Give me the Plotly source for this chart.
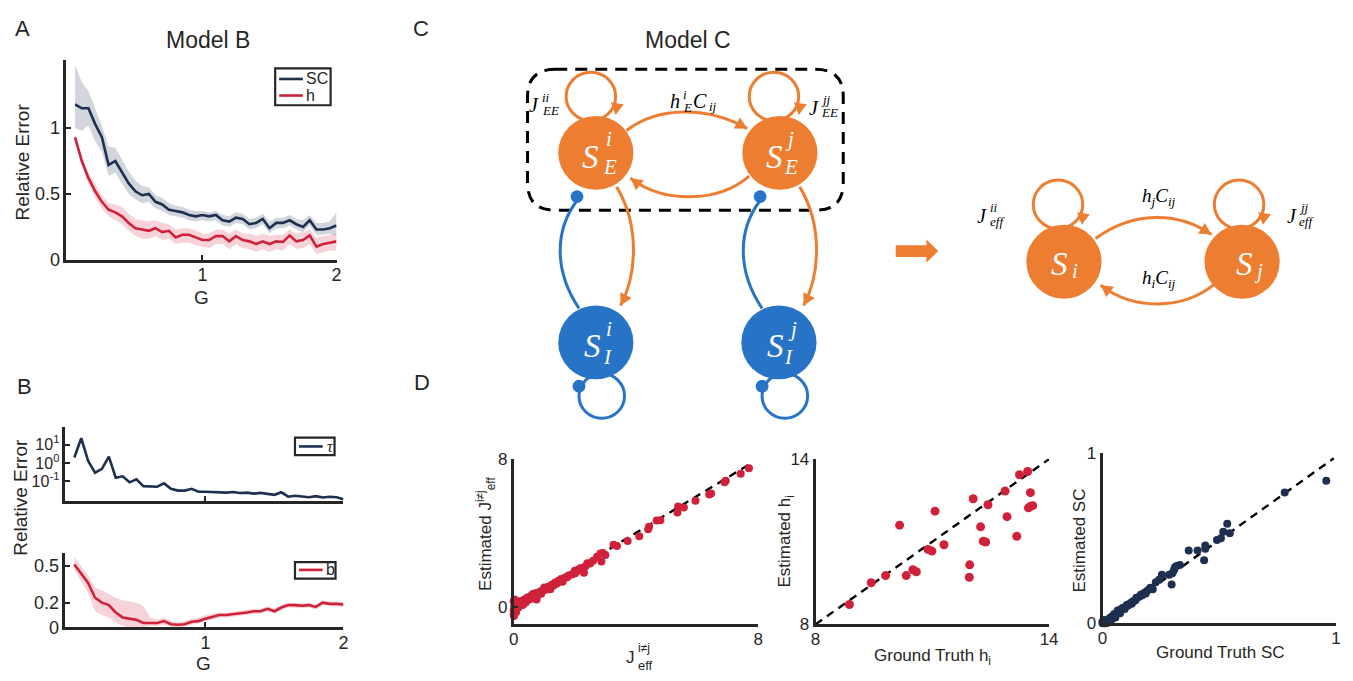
import math
import plotly.graph_objects as go

W, H = 1353, 681
SANS = "Liberation Sans"
SERIF = "Liberation Serif"
INK = "#262626"
NAVY = "#1E2F50"
RED = "#D0213A"
ORANGE = "#ED7D31"
BLUE = "#2773C6"

# ---------------- data ----------------
G = [0.05, 0.10, 0.15, 0.20, 0.25, 0.30, 0.35, 0.40, 0.45, 0.50,
     0.55, 0.60, 0.65, 0.70, 0.75, 0.80, 0.85, 0.90, 0.95, 1.00,
     1.05, 1.10, 1.15, 1.20, 1.25, 1.30, 1.35, 1.40, 1.45, 1.50,
     1.55, 1.60, 1.65, 1.70, 1.75, 1.80, 1.85, 1.90, 1.95, 2.00]

sc = [1.18, 1.15, 1.15, 1.03, 0.93, 0.72, 0.75, 0.66, 0.58, 0.52,
      0.49, 0.50, 0.44, 0.42, 0.38, 0.37, 0.36, 0.34, 0.33, 0.34,
      0.33, 0.34, 0.30, 0.29, 0.32, 0.31, 0.27, 0.28, 0.31, 0.24,
      0.28, 0.28, 0.30, 0.27, 0.25, 0.30, 0.23, 0.23, 0.24, 0.26]
sc_hi = [1.48, 1.35, 1.28, 1.15, 1.02, 0.86, 0.85, 0.76, 0.67, 0.60,
         0.56, 0.55, 0.49, 0.47, 0.43, 0.41, 0.40, 0.38, 0.37, 0.37,
         0.36, 0.37, 0.34, 0.33, 0.36, 0.35, 0.31, 0.32, 0.35, 0.29,
         0.32, 0.32, 0.34, 0.31, 0.30, 0.34, 0.28, 0.28, 0.29, 0.36]
sc_lo = [1.00, 0.98, 1.02, 0.90, 0.82, 0.64, 0.66, 0.58, 0.50, 0.46,
         0.43, 0.44, 0.39, 0.37, 0.34, 0.33, 0.32, 0.30, 0.29, 0.30,
         0.29, 0.30, 0.26, 0.25, 0.28, 0.27, 0.23, 0.24, 0.27, 0.20,
         0.24, 0.24, 0.26, 0.23, 0.21, 0.26, 0.19, 0.19, 0.20, 0.18]

h = [0.93, 0.75, 0.62, 0.52, 0.44, 0.38, 0.36, 0.33, 0.28, 0.24,
     0.23, 0.22, 0.24, 0.21, 0.22, 0.17, 0.19, 0.19, 0.17, 0.15,
     0.15, 0.18, 0.18, 0.14, 0.18, 0.15, 0.14, 0.12, 0.14, 0.12,
     0.14, 0.135, 0.185, 0.14, 0.15, 0.185, 0.10, 0.12, 0.13, 0.14]
h_hi = [0.95, 0.78, 0.66, 0.57, 0.49, 0.43, 0.42, 0.40, 0.35, 0.31,
        0.30, 0.29, 0.30, 0.28, 0.27, 0.23, 0.24, 0.24, 0.22, 0.20,
        0.20, 0.23, 0.23, 0.20, 0.23, 0.20, 0.20, 0.18, 0.20, 0.18,
        0.19, 0.19, 0.23, 0.20, 0.21, 0.23, 0.17, 0.18, 0.19, 0.20]
h_lo = [0.91, 0.72, 0.58, 0.47, 0.39, 0.33, 0.30, 0.27, 0.22, 0.18,
        0.16, 0.16, 0.18, 0.15, 0.16, 0.12, 0.13, 0.13, 0.11, 0.10,
        0.09, 0.12, 0.12, 0.08, 0.12, 0.09, 0.08, 0.06, 0.08, 0.06,
        0.08, 0.07, 0.12, 0.08, 0.09, 0.12, 0.04, 0.06, 0.07, 0.07]

tau = [2.0, 22, 1.3, 0.30, 0.48, 2.2, 0.16, 0.19, 0.09, 0.13,
       0.056, 0.052, 0.052, 0.079, 0.040, 0.032, 0.032, 0.040, 0.028, 0.028,
       0.027, 0.026, 0.025, 0.027, 0.024, 0.025, 0.022, 0.024, 0.021, 0.019,
       0.026, 0.015, 0.017, 0.016, 0.014, 0.016, 0.0135, 0.015, 0.014, 0.011]

b = [0.51, 0.43, 0.36, 0.24, 0.20, 0.18, 0.12, 0.08, 0.07, 0.06,
     0.035, 0.035, 0.035, 0.05, 0.025, 0.02, 0.025, 0.045, 0.05, 0.07,
     0.085, 0.10, 0.10, 0.105, 0.11, 0.12, 0.13, 0.13, 0.15, 0.13,
     0.16, 0.18, 0.18, 0.175, 0.18, 0.165, 0.20, 0.19, 0.19, 0.185]
b_hi = [0.57, 0.49, 0.42, 0.32, 0.30, 0.27, 0.24, 0.22, 0.21, 0.20,
        0.17, 0.08, 0.06, 0.08, 0.05, 0.04, 0.05, 0.07, 0.08, 0.10,
        0.11, 0.12, 0.12, 0.125, 0.13, 0.14, 0.15, 0.15, 0.17, 0.15,
        0.18, 0.20, 0.20, 0.195, 0.20, 0.185, 0.22, 0.21, 0.21, 0.205]
b_lo = [0.47, 0.37, 0.28, 0.13, 0.10, 0.08, 0.04, 0.01, 0.0, 0.0,
        0.0, 0.01, 0.01, 0.02, 0.005, 0.0, 0.005, 0.02, 0.03, 0.05,
        0.06, 0.08, 0.08, 0.085, 0.09, 0.10, 0.11, 0.11, 0.13, 0.11,
        0.14, 0.16, 0.16, 0.155, 0.16, 0.145, 0.18, 0.17, 0.17, 0.165]

# D1: J_eff (i != j) ground truth vs estimated
j_true = [0.0, 0.0, 0.02, 0.03, 0.05, 0.0, 0.04, 0.08, 0.10, 0.12, 0.15, 0.18, 0.20, 0.25,
          0.30, 0.35, 0.40, 0.45, 0.50, 0.55, 0.60, 0.65, 0.70, 0.75, 0.80, 0.85, 0.90,
          0.75, 1.00, 1.05, 1.10, 1.15, 1.20, 1.25, 1.30, 1.35, 1.40, 1.45, 1.50, 1.55,
          1.60, 1.65, 1.70, 1.80, 1.90, 2.00, 2.05, 2.10, 2.20, 2.30, 2.35, 2.41, 2.50,
          2.60, 2.73, 2.84, 2.87, 2.92, 3.00, 3.27, 3.38, 3.73, 4.11, 4.40, 4.43, 4.68,
          4.80, 5.36, 5.38, 5.57, 5.95, 6.40, 6.46, 6.90, 6.94, 7.43, 7.70,
          0.01, 0.03, 0.06, 0.10, 0.20, 0.30, 0.50, 0.70, 0.90, 1.00, 1.20, 0.40, 0.60,
          0.25, 0.15, 1.60, 1.75, 2.00, 1.30]
j_est = [-0.40, -0.20, 0.00, 0.20, -0.10, 0.30, 0.10, -0.30, 0.15, 0.00, 0.25, 0.10, 0.05, 0.30,
         0.20, 0.40, 0.25, 0.50, 0.40, 0.55, 0.45, 0.70, 0.60, 0.75, 0.65, 0.80, 0.70,
         0.40, 0.90, 1.00, 0.95, 1.10, 1.05, 1.20, 1.15, 1.30, 1.25, 1.40, 1.35, 1.50,
         1.45, 1.55, 1.60, 1.70, 1.75, 1.95, 1.90, 2.00, 2.10, 1.84, 2.20, 2.36, 2.35,
         2.50, 2.71, 2.89, 2.45, 2.92, 2.80, 3.36, 3.29, 3.56, 3.82, 4.20, 4.33, 4.68,
         4.69, 5.11, 5.43, 5.38, 5.74, 6.08, 6.13, 6.75, 6.83, 7.20, 7.50,
         -0.50, 0.40, 0.05, -0.10, 0.30, 0.10, 0.50, 0.45, 0.85, 1.05, 0.95, 0.30, 0.65,
         0.15, -0.05, 1.35, 1.60, 1.80, 1.20]

# D2: h_i
hi_true = [8.87, 9.43, 9.80, 10.33, 10.50, 10.59, 10.16, 10.89, 10.99, 11.07, 11.30,
           11.95, 11.96, 12.05, 12.24, 12.31, 12.37, 12.43, 12.87, 12.92, 13.17, 13.24,
           13.45, 13.52, 13.47, 13.53, 13.58]
hi_est = [8.72, 9.51, 9.77, 9.77, 9.98, 9.91, 11.60, 10.72, 10.66, 12.11, 10.89,
          9.71, 10.16, 12.56, 11.54, 11.02, 10.99, 12.34, 12.84, 11.91, 11.20, 13.43,
          13.55, 12.78, 12.23, 12.29, 12.31]

# D3: SC
sc_true = [0.958, 0.78, 0.534, 0.517, 0.545, 0.507, 0.49, 0.44, 0.44, 0.435, 0.407, 0.369,
           0.331, 0.317, 0.31, 0.299, 0.306, 0.296, 0.285, 0.254, 0.242, 0.228, 0.20, 0.19,
           0.18, 0.17, 0.16, 0.15, 0.14, 0.13, 0.12, 0.11, 0.10, 0.09, 0.08, 0.07, 0.06,
           0.05, 0.04, 0.03, 0.02, 0.01, 0.0, 0.005, 0.015, 0.035, 0.045, 0.055, 0.065,
           0.075, 0.085, 0.095, 0.105, 0.125, 0.145, 0.165, 0.185, 0.205, 0.215, 0.025,
           0.0, 0.01]
sc_est = [0.838, 0.77, 0.585, 0.539, 0.53, 0.501, 0.49, 0.457, 0.438, 0.371, 0.429, 0.429,
          0.343, 0.337, 0.33, 0.295, 0.314, 0.229, 0.286, 0.286, 0.257, 0.242, 0.20, 0.19,
          0.18, 0.165, 0.16, 0.15, 0.135, 0.13, 0.12, 0.105, 0.10, 0.09, 0.08, 0.075, 0.06,
          0.055, 0.04, 0.03, 0.02, 0.01, 0.0, 0.02, 0.0, 0.015, 0.03, 0.035, 0.075,
          0.06, 0.09, 0.085, 0.11, 0.115, 0.15, 0.17, 0.175, 0.21, 0.20, 0.005,
          0.01, 0.0]

# ---------------- layout helpers ----------------
def dom_x(a, c):
    return [a / W, c / W]


def dom_y(top, bottom):
    return [1 - bottom / H, 1 - top / H]


def axis(domain, rng, tickvals, ticktext=None, size=18, **kw):
    d = dict(domain=domain, range=rng, showline=True, linecolor=INK, linewidth=2.6,
             ticks="inside", ticklen=5, tickwidth=1.5, tickcolor=INK,
             showgrid=False, zeroline=False, tickvals=tickvals,
             tickfont=dict(family=SANS, size=size, color=INK), mirror=False)
    if ticktext is not None:
        d["ticktext"] = ticktext
    d.update(kw)
    return d


fig = go.Figure()


def band(x, lo, hi, color, xa, ya):
    fig.add_trace(go.Scatter(x=list(x) + list(x)[::-1], y=list(hi) + list(lo)[::-1],
                             fill="toself", fillcolor=color, line=dict(width=0),
                             mode="lines", hoverinfo="skip", showlegend=False,
                             xaxis=xa, yaxis=ya))


def line(x, y, color, xa, ya, width=2.6, dash=None):
    fig.add_trace(go.Scatter(x=x, y=y, mode="lines",
                             line=dict(color=color, width=width, dash=dash),
                             showlegend=False, xaxis=xa, yaxis=ya, cliponaxis=False))


# Panel A
band(G, sc_lo, sc_hi, "rgba(30,47,80,0.20)", "x", "y")
band(G, h_lo, h_hi, "rgba(208,33,58,0.20)", "x", "y")
line(G, sc, NAVY, "x", "y")
line(G, h, RED, "x", "y")

# Panel B
line(G, tau, NAVY, "x2", "y2")
band(G, b_lo, b_hi, "rgba(208,33,58,0.20)", "x3", "y3")
line(G, b, RED, "x3", "y3")

# Panel D scatter
line([0, 7.7], [0, 7.7], "black", "x4", "y4", width=2.4, dash="8px,6px")
fig.add_trace(go.Scatter(x=j_true, y=j_est, mode="markers", marker=dict(color=RED, size=8),
                         showlegend=False, xaxis="x4", yaxis="y4", cliponaxis=False))
line([8, 14], [8, 14], "black", "x5", "y5", width=2.4, dash="8px,6px")
fig.add_trace(go.Scatter(x=hi_true, y=hi_est, mode="markers", marker=dict(color=RED, size=9),
                         showlegend=False, xaxis="x5", yaxis="y5", cliponaxis=False))
line([0, 0.99], [0, 0.97], "black", "x6", "y6", width=2.4, dash="8px,6px")
fig.add_trace(go.Scatter(x=sc_true, y=sc_est, mode="markers", marker=dict(color=NAVY, size=8),
                         showlegend=False, xaxis="x6", yaxis="y6", cliponaxis=False))

# overlay dummy
fig.add_trace(go.Scatter(x=[None], y=[None], xaxis="x7", yaxis="y7", showlegend=False))

XS = dict(ticklabelstandoff=-3)
layout = dict(
    width=W, height=H, margin=dict(l=0, r=0, t=0, b=0),
    paper_bgcolor="white", plot_bgcolor="rgba(0,0,0,0)",
    xaxis=axis(dom_x(62, 335), [-0.015, 2], [1, 2], ["1", "2"], anchor="y", **XS),
    yaxis=axis(dom_y(52, 258), [0, 1.52], [0, 0.5, 1], ["0", "0.5", "1"], anchor="x"),
    xaxis2=axis(dom_x(61, 342), [-0.015, 2], [1, 2], showticklabels=False, anchor="y2"),
    yaxis2=axis(dom_y(430, 506), [-2.05, 1.95], [0.1, 1, 10],
                ["10<sup>-1</sup>", "10<sup>0</sup>", "10<sup>1</sup>"], size=16,
                type="log", anchor="x2"),
    xaxis3=axis(dom_x(61, 342), [-0.015, 2], [1, 2], ["1", "2"], anchor="y3", **XS),
    yaxis3=axis(dom_y(560, 636), [0, 0.6], [0, 0.2, 0.5], ["0", "0.2", "0.5"], anchor="x3"),
    xaxis4=axis(dom_x(514, 761), [0, 8], [0, 8], ["0", "8"], size=17, anchor="y4", **XS),
    yaxis4=axis(dom_y(463, 633), [-0.95, 8], [0, 8], ["0", "8"], size=17, anchor="x4"),
    xaxis5=axis(dom_x(819, 1055), [8, 14], [8, 14], ["8", "14"], size=17, anchor="y5", **XS),
    yaxis5=axis(dom_y(463, 633), [8, 14], [8, 14], ["8", "14"], size=17, anchor="x5"),
    xaxis6=axis(dom_x(1109, 1345), [0, 1], [0, 1], ["0", "1"], size=17, anchor="y6", **XS),
    yaxis6=axis(dom_y(457, 632), [0, 1], [0, 1], ["0", "1"], size=17, anchor="x6"),
    xaxis7=dict(domain=[0, 1], range=[0, W], visible=False, anchor="y7", fixedrange=True),
    yaxis7=dict(domain=[0, 1], range=[H, 0], visible=False, anchor="x7", fixedrange=True),
)
fig.update_layout(**layout)

shapes = []
annots = []


def txt(x, y, s, size, color=INK, family=SANS, angle=0, xanchor="center", yanchor="middle"):
    annots.append(dict(x=x, y=y, xref="x7", yref="y7", text=s, showarrow=False,
                       font=dict(family=family, size=size, color=color), textangle=angle,
                       xanchor=xanchor, yanchor=yanchor))


def itxt(x, y, s, size, color="black", xanchor="center"):
    txt(x, y, "<i>" + s + "</i>", size, color=color, family=SERIF, xanchor=xanchor)


def path(p, color, width=3, fill=None, dash=None):
    sh = dict(type="path", path=p, xref="x7", yref="y7", layer="above",
              line=dict(color=color, width=width, dash=dash))
    if fill:
        sh["fillcolor"] = fill
        sh["line"] = dict(width=0)
    shapes.append(sh)


def circ(cx, cy, r, color, fill=True, width=3):
    sh = dict(type="circle", x0=cx - r, x1=cx + r, y0=cy - r, y1=cy + r,
              xref="x7", yref="y7", layer="above")
    if fill:
        sh["fillcolor"] = color
        sh["line"] = dict(width=0)
    else:
        sh["line"] = dict(color=color, width=width)
    shapes.append(sh)


def head(tip, frm, color, L=12, Wd=6.5):
    vx, vy = tip[0] - frm[0], tip[1] - frm[1]
    n = math.hypot(vx, vy)
    ux, uy = vx / n, vy / n
    bx, by = tip[0] - L * ux, tip[1] - L * uy
    px, py = -uy, ux
    path(f"M {tip[0]},{tip[1]} L {bx + Wd * px},{by + Wd * py} L {bx - Wd * px},{by - Wd * py} Z",
         color, fill=color)


def legend_box(x0, y0, x1, y1, entries):
    shapes.append(dict(type="rect", x0=x0, x1=x1, y0=y0, y1=y1, xref="x7", yref="y7",
                       line=dict(color=INK, width=2.2), layer="above"))
    for (ly, color, label, italic) in entries:
        shapes.append(dict(type="line", x0=x0 + 4, x1=x0 + 28, y0=ly, y1=ly, xref="x7", yref="y7",
                           line=dict(color=color, width=2.6), layer="above"))
        if italic:
            itxt(x0 + 30, ly, label, 16, color=INK, xanchor="left")
        else:
            txt(x0 + 29, ly, label, 16, xanchor="left")


# ---- panel letters and titles
txt(18, 20, "A", 22)
txt(20, 388, "B", 22)
txt(420, 20, "C", 22)
txt(421, 384, "D", 22)
txt(205, 32, "Model B", 23)
txt(690, 32, "Model C", 23)

# ---- axis titles A/B
txt(18, 157, "Relative Error", 19, angle=-90)
txt(199, 297, "G", 19)
txt(16, 502, "Relative Error", 19, angle=-90)
txt(201, 673, "G", 19)

# ---- legends
legend_box(273, 61, 329, 99, [(72, NAVY, "SC", False), (89, RED, "h", False)])
legend_box(293, 441, 333, 459, [(450, NAVY, "τ", True)])
legend_box(293, 569, 334, 586, [(577, RED, "b", False)])

# ---- D axis titles
txt(486, 540, "Estimated J<sup>i≠j</sup><sub>eff</sub>", 17, angle=-90)
txt(632, 667, "J", 17)
txt(638, 657, "i≠j", 12, xanchor="left")
txt(638, 675, "eff", 13, xanchor="left")
txt(789, 548, "Estimated h<sub>i</sub>", 17, angle=-90)
txt(937, 667, "Ground Truth h<sub>i</sub>", 17)
txt(1086, 547, "Estimated SC", 17, angle=-90)
txt(1228, 662, "Ground Truth SC", 17)

# ---- Model C diagram
# dashed rounded box
path("M 556,62 L 819,62 Q 847,62 847,90 L 847,179 Q 847,207 819,207 L 556,207 "
     "Q 528,207 528,179 L 528,90 Q 528,62 556,62 Z", "black", width=3, dash="12px,8px")

# self loops (E)
circ(592, 90, 25, ORANGE, fill=False)
circ(777, 90, 25, ORANGE, fill=False)
# E-E edges
path("M 628,125 C 660,100 710,100 750,123", ORANGE)
path("M 752,172 C 720,200 665,200 632,174", ORANGE)
# E -> I edges
path("M 618,183 C 640,220 640,270 622,305", ORANGE)
path("M 803,183 C 825,220 825,270 807,305", ORANGE)
# I -> E edges (inhibitory)
path("M 580,308 C 555,270 555,228 578,197", BLUE)
path("M 765,308 C 740,270 740,228 763,197", BLUE)
# I self loops
circ(603, 398, 23, BLUE, fill=False)
circ(788, 398, 23, BLUE, fill=False)

# nodes
circ(597, 148, 38, ORANGE)
circ(783, 148, 38, ORANGE)
circ(597, 343, 38, BLUE)
circ(782, 343, 38, BLUE)

# heads and dots
head((617, 109), (619, 95), ORANGE)
head((802, 109), (804, 95), ORANGE)
head((750, 123), (712, 102), ORANGE)
head((632, 174), (665, 199), ORANGE)
head((622, 305), (639, 272), ORANGE)
head((807, 305), (824, 272), ORANGE)
circ(578, 193, 6.5, BLUE)
circ(763, 193, 6.5, BLUE)
circ(580, 388, 6.5, BLUE)
circ(765, 388, 6.5, BLUE)

# node labels
for (sx, sy, sup, sub, supx, subx) in [(592, 152, "i", "E", 610, 611),
                                       (778, 152, "j", "E", 793, 794),
                                       (594, 347, "i", "I", 610, 609),
                                       (779, 347, "j", "I", 796, 792)]:
    itxt(sx, sy, "S", 33, color="white")
    itxt(supx, sy - 18, sup, 21, color="white")
    itxt(subx, sy + 11, sub, 21, color="white")

# edge labels
itxt(535, 99, "J", 20)
itxt(541, 91, "ii", 13, xanchor="left")
itxt(541, 104, "EE", 13, xanchor="left")
itxt(817, 102, "J", 20)
itxt(823, 93, "jj", 13, xanchor="left")
itxt(823, 106, "EE", 13, xanchor="left")
itxt(677, 95, "h", 20)
itxt(683, 88, "i", 13, xanchor="left")
itxt(683, 101, "E", 13, xanchor="left")
itxt(702, 95, "C", 20)
itxt(709, 100, "ij", 13, xanchor="left")

# big arrow
path("M 900,243 L 931,243 L 931,237 L 943,249 L 931,261 L 931,255 L 900,255 Z", ORANGE, fill=ORANGE)

# effective model
circ(1064, 201, 25, ORANGE, fill=False)
circ(1247, 201, 25, ORANGE, fill=False)
path("M 1102,236 C 1140,208 1185,208 1219,232", ORANGE)
path("M 1222,283 C 1190,310 1140,310 1107,284", ORANGE)
circ(1070, 260, 38, ORANGE)
circ(1250, 260, 38, ORANGE)
head((1088, 222), (1090, 208), ORANGE)
head((1271, 222), (1273, 208), ORANGE)
head((1219, 232), (1185, 210), ORANGE)
head((1107, 284), (1140, 308), ORANGE)

itxt(1066, 262, "S", 33, color="white")
itxt(1081, 270, "i", 21, color="white")
itxt(1252, 262, "S", 33, color="white")
itxt(1267, 270, "j", 21, color="white")

itxt(987, 213, "J", 20)
itxt(993, 204, "ii", 13, xanchor="left")
itxt(993, 219, "eff", 13, xanchor="left")
itxt(1300, 213, "J", 20)
itxt(1306, 204, "jj", 13, xanchor="left")
itxt(1306, 219, "eff", 13, xanchor="left")
itxt(1166, 193, "h<sub>j</sub>C<sub>ij</sub>", 19)
itxt(1166, 278, "h<sub>i</sub>C<sub>ij</sub>", 19)

fig.update_layout(shapes=shapes, annotations=annots)
fig.write_html("out.html", config={"displayModeBar": False},
               post_script="document.body.style.margin='0';document.body.style.overflow='hidden';")
